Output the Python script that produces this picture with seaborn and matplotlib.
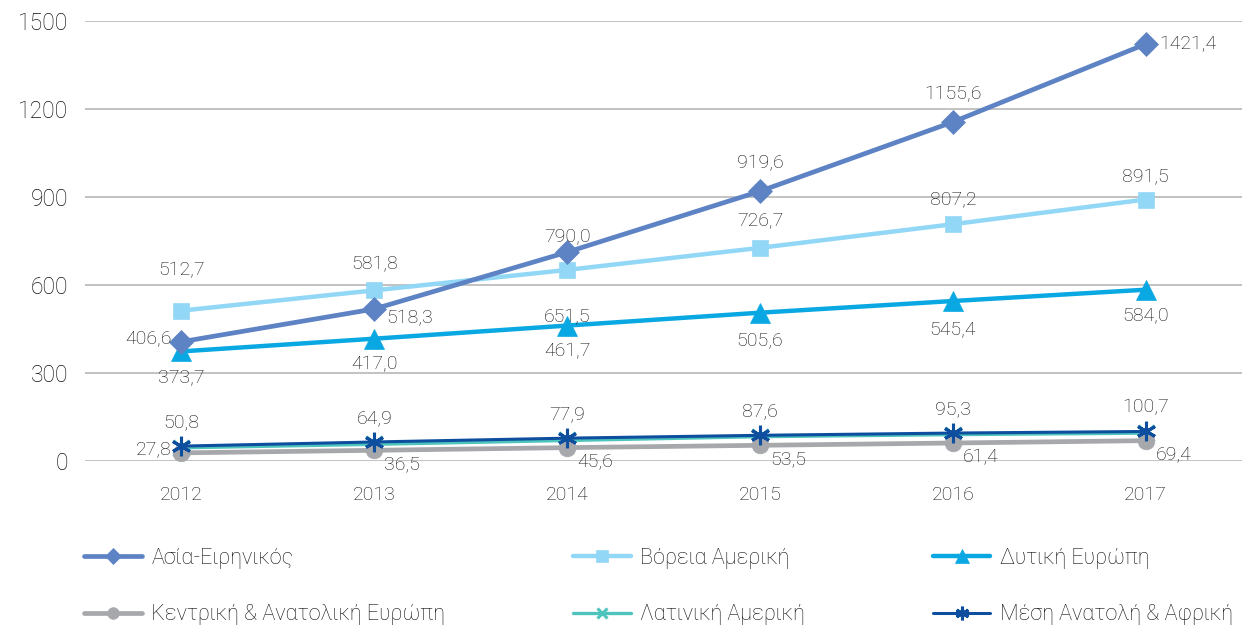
import matplotlib
matplotlib.use("Agg")
import matplotlib.pyplot as plt
import seaborn as sns
import pandas as pd

years = ["2012", "2013", "2014", "2015", "2016", "2017"]

asia = [406.6, 518.3, 712.0, 919.6, 1155.6, 1421.4]
asia_labels = [406.6, 518.3, 790.0, 919.6, 1155.6, 1421.4]
north_america = [512.7, 581.8, 651.5, 726.7, 807.2, 891.5]
west_europe = [373.7, 417.0, 461.7, 505.6, 545.4, 584.0]
central_europe = [27.8, 36.5, 45.6, 53.5, 61.4, 69.4]
latin_america = [45.0, 57.0, 70.0, 83.0, 90.0, 95.0]
middle_east = [50.8, 64.9, 77.9, 87.6, 95.3, 100.7]

names = ["Ασία-Ειρηνικός", "Βόρεια Αμερική", "Δυτική Ευρώπη",
         "Κεντρική & Ανατολική Ευρώπη", "Λατινική Αμερική", "Μέση Ανατολή & Αφρική"]

sns.set_style("white")
plt.rcParams["font.family"] = ["Roboto", "DejaVu Sans"]
text_color = "#111111"

fig = plt.figure(figsize=(12.42, 6.31), dpi=100)
ax = fig.add_axes([0.0685, 0.2694, 0.9315, 0.6973])

# (values, colour, marker, markersize, linewidth, label values, label offsets in pixels)
series = [
    (latin_america, "#4fc4bc", "x", 11, 2.4, None, None),
    (central_europe, "#a7a8ac", "o", 12, 3.4, central_europe,
     [(-10, 4, "right"), (10, -14, "left"), (10, -14, "left"), (10, -14, "left"),
      (10, -14, "left"), (10, -14, "left")]),
    (middle_east, "#0d4f9e", (6, 2, 0), 14, 2.2, middle_east,
     [(0, 24, "center")] * 6),
    (west_europe, "#0aa8e2", "^", 15, 3.2, west_europe,
     [(0, -26, "center"), (0, -26, "center"), (0, -26, "center"), (0, -28, "center"),
      (0, -28, "center"), (0, -26, "center")]),
    (north_america, "#92d7f6", "s", 12, 3.2, north_america,
     [(0, 40, "center"), (0, 26, "center"), (0, -47, "center"), (0, 28, "center"),
      (0, 25, "center"), (0, 22, "center")]),
    (asia, "#5d83c4", "D", 12, 3.4, asia_labels,
     [(-10, 3, "right"), (12, -9, "left"), (0, 16, "center"), (0, 28, "center"),
      (0, 28, "center"), (14, 0, "left")]),
]
label_of = {id(latin_america): names[4], id(central_europe): names[3],
            id(middle_east): names[5], id(west_europe): names[2],
            id(north_america): names[1], id(asia): names[0]}

handles = {}
for vals, color, marker, ms, lw, labs, offs in series:
    df = pd.DataFrame({"year": years, "value": vals})
    sns.lineplot(data=df, x="year", y="value", ax=ax, color=color, linewidth=lw,
                 marker=marker, markersize=ms, markeredgecolor=color,
                 markeredgewidth=2.2 if marker in ("x", (6, 2, 0)) else 0.5)
    line = ax.lines[-1]
    handles[label_of[id(vals)]] = line
    if labs is not None:
        for i, (v, lab) in enumerate(zip(vals, labs)):
            dx, dy, ha = offs[i]
            ax.annotate(f"{lab:.1f}".replace(".", ","), (i, v),
                        xytext=(dx, dy), textcoords="offset pixels",
                        ha=ha, va="center", fontsize=14, color=text_color,
                        fontweight="light")

ax.set_xlim(-0.5, 5.5)
ax.set_ylim(0, 1500)
ax.set_yticks([0, 300, 600, 900, 1200, 1500])
ax.grid(axis="y", color="#bdbdbd", linewidth=1.3)
ax.set_axisbelow(True)
for s in ax.spines.values():
    s.set_visible(False)
ax.set_xlabel("")
ax.set_ylabel("")
ax.tick_params(axis="y", labelsize=16.5, colors=text_color, length=0, pad=12)
ax.tick_params(axis="x", labelsize=14, colors=text_color, length=0, pad=18)
for t in ax.get_yticklabels() + ax.get_xticklabels():
    t.set_fontweight("light")

order = [names[0], names[3], names[1], names[4], names[2], names[5]]
leg = fig.legend([handles[n] for n in order], order, loc="lower left",
                 bbox_to_anchor=(0.052, -0.022), ncol=3, frameon=False,
                 fontsize=15.6, handlelength=2.65, handletextpad=0.45,
                 columnspacing=5.9, labelspacing=1.65, markerscale=0.7)
for t in leg.get_texts():
    t.set_color(text_color)
    t.set_fontweight("light")

fig.savefig("out.png", dpi=100)
